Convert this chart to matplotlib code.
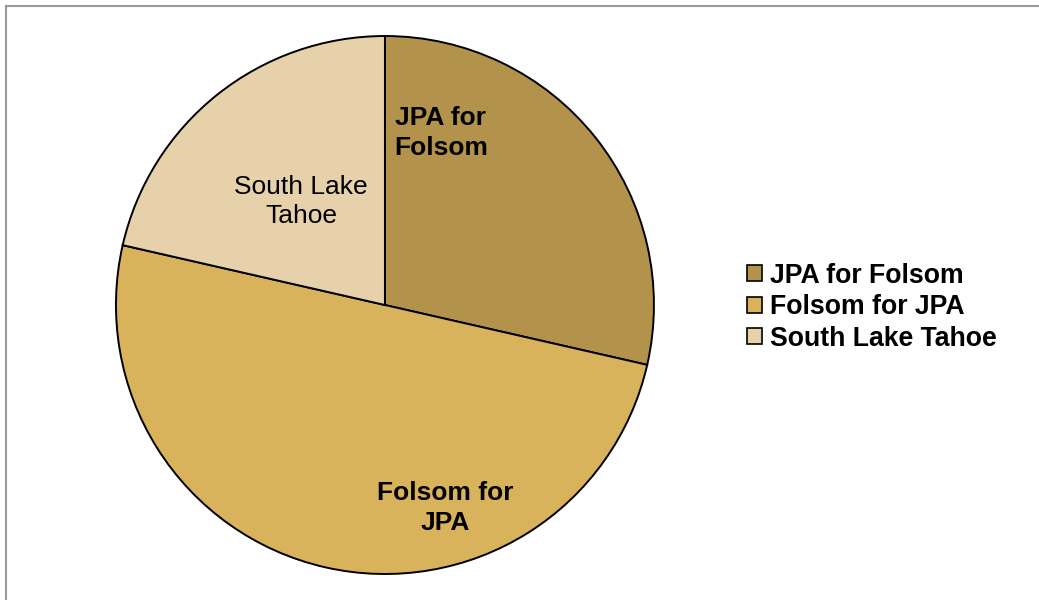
import matplotlib
matplotlib.use("Agg")
import matplotlib.pyplot as plt
from matplotlib.patches import Patch
from matplotlib.lines import Line2D

plt.rcParams['font.family'] = ['Liberation Sans', 'DejaVu Sans']

# data
labels = ['JPA for Folsom', 'Folsom for JPA', 'South Lake Tahoe']
values = [4, 7, 3]
colors = ['#B3924C', '#D9B25C', '#E6D1AB']

fig = plt.figure(figsize=(10.39, 6), dpi=100)
ax = fig.add_axes([0.1116, 0.0433, 0.5178, 0.8967])

wedges, _ = ax.pie(values, colors=colors, startangle=90, counterclock=False,
                   radius=1, wedgeprops=dict(edgecolor='black', linewidth=1.4))
ax.set_xlim(-1, 1)
ax.set_ylim(-1, 1)
ax.axis('off')

# slice labels
ax.text(0.208, 0.64, 'JPA for\nFolsom', ha='center', va='center', fontsize=19,
        fontweight='bold', linespacing=1.3)
ax.text(0.223, -0.755, 'Folsom for\nJPA', ha='center', va='center', fontsize=19,
        fontweight='bold', linespacing=1.3)
ax.text(-0.312, 0.385, 'South Lake\nTahoe', ha='center', va='center', fontsize=19,
        linespacing=1.3)

handles = [Patch(facecolor=c, edgecolor='black', linewidth=1.2) for c in colors]
leg = fig.legend(handles, labels, loc='center left', bbox_to_anchor=(0.719, 0.488),
                 frameon=False, borderpad=0, borderaxespad=0, handlelength=0.55,
                 handleheight=0.55, handletextpad=0.3, labelspacing=0.2,
                 prop=dict(size=19.2, weight='bold'))

# outer frame (left and top edges)
W, H = 1039, 600
fig.add_artist(Line2D([5.5 / W, 5.5 / W], [0, 1 - 6 / H], transform=fig.transFigure,
                      color='#999999', linewidth=1.5))
fig.add_artist(Line2D([5.5 / W, 1], [1 - 6 / H, 1 - 6 / H], transform=fig.transFigure,
                      color='#999999', linewidth=1.5))

fig.savefig('out.png', dpi=100)
